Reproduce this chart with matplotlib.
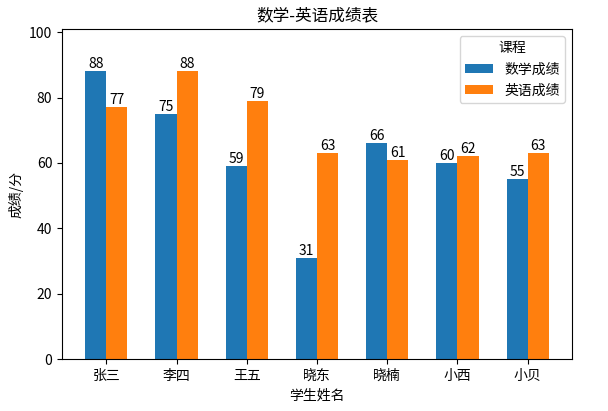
import matplotlib
matplotlib.use("Agg")
import matplotlib.pyplot as plt
import numpy as np

plt.rcParams['font.family'] = ['Noto Sans CJK SC', 'DejaVu Sans']
plt.rcParams['axes.unicode_minus'] = False

students = ['张三', '李四', '王五', '晓东', '晓楠', '小西', '小贝']
math_scores = [88, 75, 59, 31, 66, 60, 55]
english_scores = [77, 88, 79, 63, 61, 62, 63]

fig = plt.figure(figsize=(6.08, 4.11), dpi=100)
ax = fig.add_axes([62/608, 1-359/411, 510/608, 330/411])

x = np.arange(len(students))
w = 0.3
b1 = ax.bar(x - w/2, math_scores, w, label='数学成绩')
b2 = ax.bar(x + w/2, english_scores, w, label='英语成绩')
for bars in (b1, b2):
    for r in bars:
        ax.text(r.get_x() + r.get_width()/2, r.get_height(), f'{int(r.get_height())}',
                ha='center', va='bottom', fontsize=10)

ax.set_xticks(x)
ax.set_xticklabels(students)
ax.set_ylim(0, 101)
ax.set_xlabel('学生姓名')
ax.set_ylabel('成绩/分')
ax.set_title('数学-英语成绩表')
ax.legend(title='课程')

fig.savefig('out.png', dpi=100)
